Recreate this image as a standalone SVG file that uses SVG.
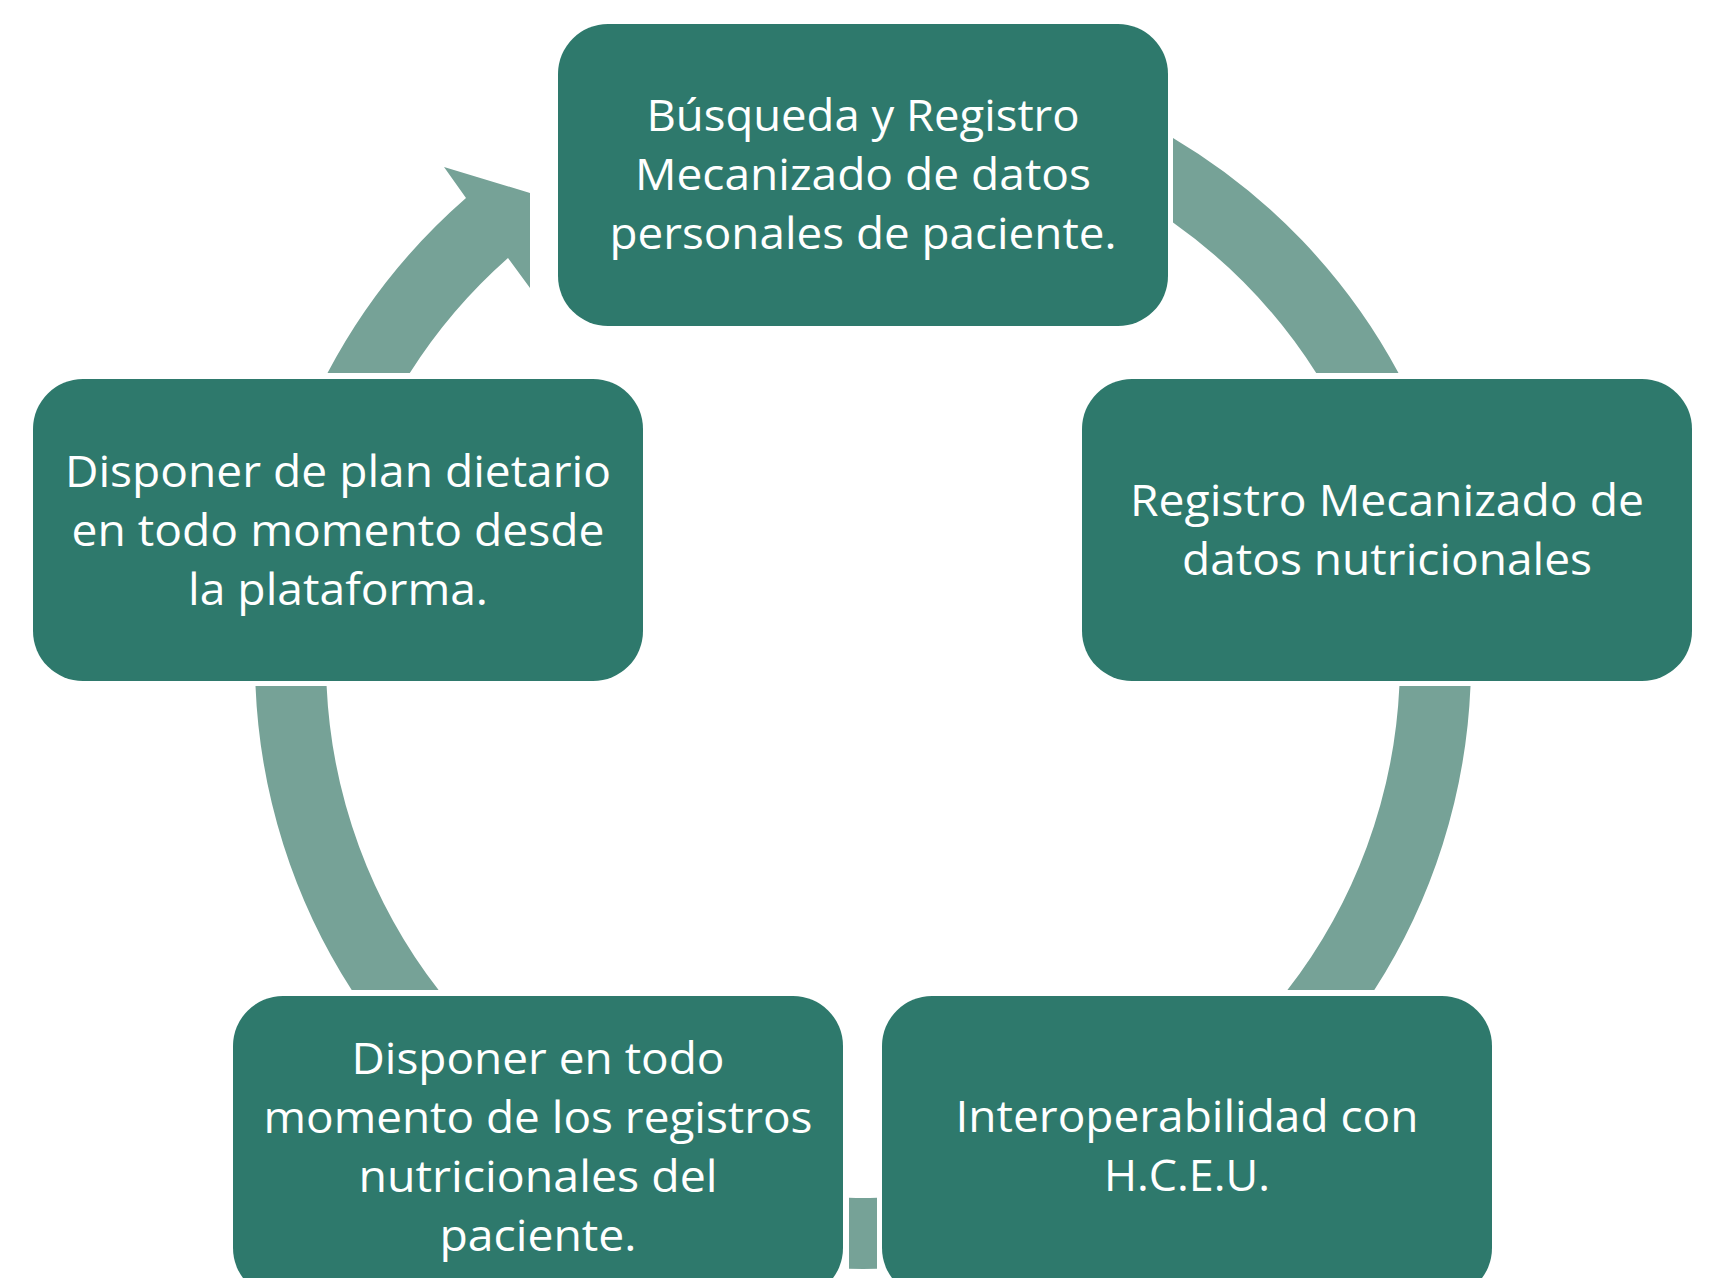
<svg xmlns="http://www.w3.org/2000/svg" width="1716" height="1278" viewBox="0 0 1716 1278">
<style>
.node{fill:#2E796C;}
.arc{fill:#76A297;}
.t{fill:#FFFFFF;font-family:"Open Sans","Noto Sans","Liberation Sans",sans-serif;font-size:44px;text-anchor:middle;}
</style>
<rect width="1716" height="1278" fill="#FFFFFF"/>
<g id="connectors">
<path class="arc" d="M1173,138 A608,608 0 0 1 1398.5,373 L1316.2,373 A537,537 0 0 0 1173,222.5 Z"/>
<path class="arc" d="M1399.4,686 L1470.5,686 A608,608 0 0 1 1374.3,990 L1287.4,990 A537,537 0 0 0 1399.4,686 Z"/>
<path class="arc" d="M877,1197.8 A537,537 0 0 1 849,1197.8 L849,1268.8 A608,608 0 0 0 877,1268.8 Z"/>
<path class="arc" d="M326.6,686 L255.5,686 A608,608 0 0 0 351.7,990 L438.6,990 A537,537 0 0 1 326.6,686 Z"/>
<path class="arc" d="M327.5,373 A608,608 0 0 1 466,198 L444,167 L530,193 L530,288 L508,258 A537,537 0 0 0 409.8,373 Z"/>
</g>
<g id="node1">
<rect class="node" x="558" y="24" width="610" height="302" rx="50" ry="50"/>
<text class="t" x="863" y="131" textLength="433" lengthAdjust="spacingAndGlyphs">Búsqueda y Registro</text>
<text class="t" x="863" y="190" textLength="456" lengthAdjust="spacingAndGlyphs">Mecanizado de datos</text>
<text class="t" x="863" y="249" textLength="507" lengthAdjust="spacingAndGlyphs">personales de paciente.</text>
</g>
<g id="node2">
<rect class="node" x="1082" y="379" width="610" height="302" rx="50" ry="50"/>
<text class="t" x="1387" y="516" textLength="514" lengthAdjust="spacingAndGlyphs">Registro Mecanizado de</text>
<text class="t" x="1387" y="575" textLength="410" lengthAdjust="spacingAndGlyphs">datos nutricionales</text>
</g>
<g id="node3">
<rect class="node" x="882" y="996" width="610" height="302" rx="50" ry="50"/>
<text class="t" x="1187" y="1132" textLength="463" lengthAdjust="spacingAndGlyphs">Interoperabilidad con</text>
<text class="t" x="1187" y="1191" textLength="166" lengthAdjust="spacingAndGlyphs">H.C.E.U.</text>
</g>
<g id="node4">
<rect class="node" x="233" y="996" width="610" height="302" rx="50" ry="50"/>
<text class="t" x="538" y="1074" textLength="373" lengthAdjust="spacingAndGlyphs">Disponer en todo</text>
<text class="t" x="538" y="1133" textLength="549" lengthAdjust="spacingAndGlyphs">momento de los registros</text>
<text class="t" x="538" y="1192" textLength="359" lengthAdjust="spacingAndGlyphs">nutricionales del</text>
<text class="t" x="538" y="1251" textLength="197" lengthAdjust="spacingAndGlyphs">paciente.</text>
</g>
<g id="node5">
<rect class="node" x="33" y="379" width="610" height="302" rx="50" ry="50"/>
<text class="t" x="338" y="487" textLength="546" lengthAdjust="spacingAndGlyphs">Disponer de plan dietario</text>
<text class="t" x="338" y="546" textLength="533" lengthAdjust="spacingAndGlyphs">en todo momento desde</text>
<text class="t" x="338" y="605" textLength="300" lengthAdjust="spacingAndGlyphs">la plataforma.</text>
</g>
</svg>
